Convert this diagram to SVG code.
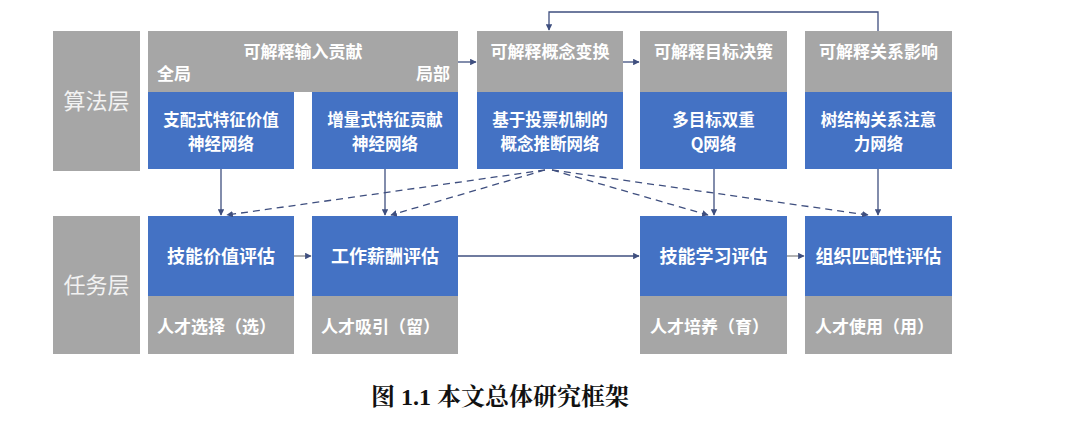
<svg xmlns="http://www.w3.org/2000/svg" width="1080" height="434" viewBox="0 0 1080 434">
<style>
.g{fill:#a6a6a6}
.b{fill:#4472c4}
.t{font-family:"Noto Sans CJK SC","Liberation Sans",sans-serif;font-weight:bold;fill:#fff;text-anchor:middle}
.h{font-size:17px}
.m{font-size:18px}
.m2{font-size:16.5px}
.l{font-size:22px;font-weight:normal;fill:#f2f2f2}
.s{font-size:17px;text-anchor:start}
.c{stroke:#3f4f7f;stroke-width:1.3;fill:none}
.d{stroke:#3f4f7f;stroke-width:1.3;fill:none;stroke-dasharray:7 5}
.cap{font-family:"Liberation Serif","Noto Serif CJK SC","Noto Sans CJK SC",serif;font-weight:bold;font-size:24px;fill:#111;text-anchor:middle}
</style>
<defs>
<marker id="a" viewBox="0 0 10 10" refX="9" refY="5" markerWidth="5" markerHeight="5" orient="auto"><path d="M0,0L10,5L0,10z" fill="#3f4f7f"/></marker>
</defs>
<rect width="1080" height="434" fill="#fff"/>
<g id="layer-alg"><rect class="g" x="53" y="31" width="87" height="140"/><text class="t l" x="96.5" y="109">算法层</text></g>
<g id="layer-task"><rect class="g" x="53" y="216" width="87" height="138"/><text class="t l" x="96.5" y="293">任务层</text></g>
<g id="input-contrib"><rect class="g" x="148" y="31" width="310" height="61"/><text class="t h" x="303" y="58">可解释输入贡献</text><text class="t h" x="157" y="80" style="text-anchor:start">全局</text><text class="t h" x="450" y="80" style="text-anchor:end">局部</text></g>
<g id="n1"><rect class="b" x="148" y="92" width="146" height="77"/><text class="t m2" x="221" y="126">支配式特征价值</text><text class="t m2" x="221" y="150">神经网络</text></g>
<g id="n2"><rect class="b" x="312" y="92" width="146" height="77"/><text class="t m2" x="385" y="126">增量式特征贡献</text><text class="t m2" x="385" y="150">神经网络</text></g>
<g id="n3"><rect class="g" x="477" y="31" width="146" height="61"/><text class="t h" x="550" y="58">可解释概念变换</text><rect class="b" x="477" y="92" width="146" height="77"/><text class="t m2" x="550" y="126">基于投票机制的</text><text class="t m2" x="550" y="150">概念推断网络</text></g>
<g id="n4"><rect class="g" x="640" y="31" width="147" height="61"/><text class="t h" x="713.5" y="58">可解释目标决策</text><rect class="b" x="640" y="92" width="147" height="77"/><text class="t m2" x="713.5" y="126">多目标双重</text><text class="t m2" x="713.5" y="150">Q网络</text></g>
<g id="n5"><rect class="g" x="805" y="31" width="147" height="61"/><text class="t h" x="878.5" y="58">可解释关系影响</text><rect class="b" x="805" y="92" width="147" height="77"/><text class="t m2" x="878.5" y="126">树结构关系注意</text><text class="t m2" x="878.5" y="150">力网络</text></g>
<g id="t1"><rect class="b" x="148" y="216" width="146" height="80"/><text class="t m" x="221" y="263">技能价值评估</text><rect class="g" x="148" y="296" width="146" height="58"/><text class="t s" x="157" y="333">人才选择（选）</text></g>
<g id="t2"><rect class="b" x="312" y="216" width="146" height="80"/><text class="t m" x="385" y="263">工作薪酬评估</text><rect class="g" x="312" y="296" width="146" height="58"/><text class="t s" x="321" y="333">人才吸引（留）</text></g>
<g id="t3"><rect class="b" x="640" y="216" width="147" height="80"/><text class="t m" x="713.5" y="263">技能学习评估</text><rect class="g" x="640" y="296" width="147" height="58"/><text class="t s" x="650" y="333">人才培养（育）</text></g>
<g id="t4"><rect class="b" x="805" y="216" width="147" height="80"/><text class="t m" x="878.5" y="263">组织匹配性评估</text><rect class="g" x="805" y="296" width="147" height="58"/><text class="t s" x="815" y="333">人才使用（用）</text></g>
<g id="connectors">
<path class="c" d="M458,62H476" marker-end="url(#a)"/>
<path class="c" d="M623,62H639" marker-end="url(#a)"/>
<path class="c" d="M878,31V12H549V30" marker-end="url(#a)"/>
<path class="c" d="M221,169V215" marker-end="url(#a)"/>
<path class="c" d="M385,169V215" marker-end="url(#a)"/>
<path class="c" d="M714,169V215" marker-end="url(#a)"/>
<path class="c" d="M878,169V215" marker-end="url(#a)"/>
<path class="d" d="M545,170L227,215" marker-end="url(#a)"/>
<path class="d" d="M545,170L391,215" marker-end="url(#a)"/>
<path class="d" d="M552,170L708,215" marker-end="url(#a)"/>
<path class="d" d="M552,170L868,215" marker-end="url(#a)"/>
<path class="c" d="M294,256H311" style="stroke:#888" marker-end="url(#a)"/>
<path class="c" d="M458,256H639" marker-end="url(#a)"/>
<path class="c" d="M787,256H804" style="stroke:#888" marker-end="url(#a)"/>
</g>
<text class="cap" x="500" y="405">图 1.1 本文总体研究框架</text>
</svg>
